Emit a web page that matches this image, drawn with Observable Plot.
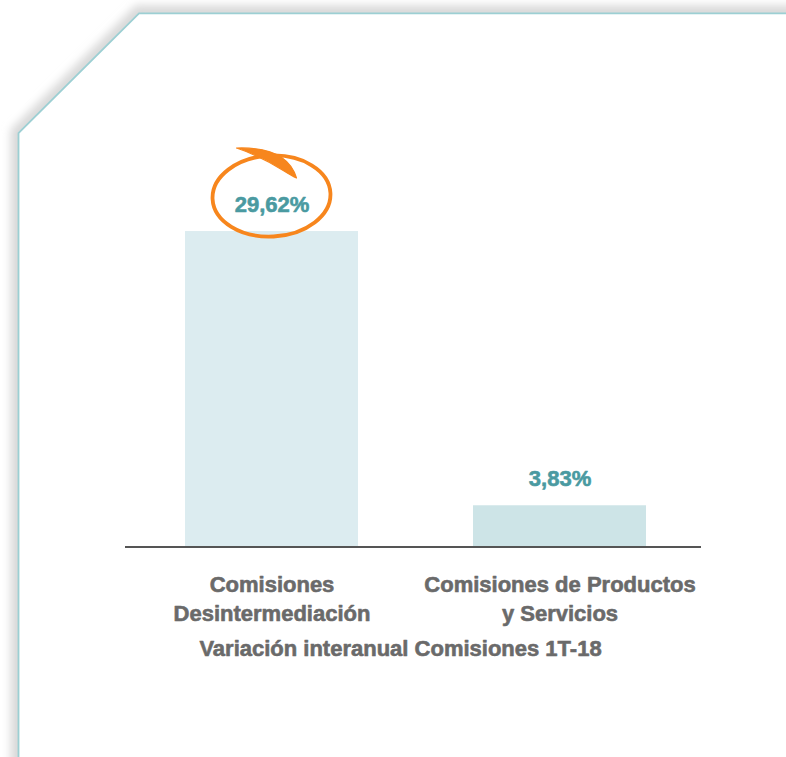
<!DOCTYPE html>
<html>
<head>
<meta charset="utf-8">
<script src="https://cdn.jsdelivr.net/npm/d3@7"></script>
<script src="https://cdn.jsdelivr.net/npm/@observablehq/plot@0.6"></script>
<style>
  html, body { margin: 0; padding: 0; background: #ffffff; }
  #chart { width: 786px; height: 757px; overflow: hidden; }
</style>
</head>
<body>
<div id="chart"></div>
<script>
const categories = ["Comisiones Desintermediación", "Comisiones de Productos y Servicios"];
const tickLabels = ["Comisiones\nDesintermediación", "Comisiones de Productos\ny Servicios"];
const values = [29.62, 3.83];
const valueLabels = ["29,62%", "3,83%"];
const barColors = ["#dcecf0", "#cde4e7"];
const title = "Variación interanual Comisiones 1T-18";

const data = categories.map((c, i) => ({cat: c, value: values[i], label: valueLabels[i], tick: tickLabels[i], color: barColors[i]}));

const font = "'Liberation Sans', Arial, Helvetica, sans-serif";
const grey = "#6a6a6a";
const teal = "#4a9aa1";

const chart = Plot.plot({
  width: 786,
  height: 757,
  marginLeft: 127,
  marginRight: 83,
  marginTop: 227,
  marginBottom: 211,
  x: {domain: categories, paddingInner: 0.4, paddingOuter: 0.2, axis: null},
  y: {domain: [0, 30], axis: null},
  color: {type: "identity"},
  style: {fontFamily: font, background: "transparent", overflow: "visible"},
  marks: [
    Plot.barY(data, {x: "cat", y: "value", fill: "color"}),
    Plot.ruleY([0], {stroke: "#555555", strokeWidth: 2, dx: -2, dy: 0.5}),
    Plot.text(data, {x: "cat", y: "value", text: "label", lineAnchor: "top", dy: -35,
      fill: teal, stroke: teal, strokeWidth: 0.6, fontSize: 22, fontWeight: "bold"}),
    Plot.text(data, {x: "cat", text: "tick", frameAnchor: "bottom", lineAnchor: "top", dy: 25,
      lineHeight: 1.32, fill: grey, stroke: grey, strokeWidth: 0.6, fontSize: 22, fontWeight: "bold"}),
    Plot.text([title], {text: d => d, frameAnchor: "bottom", lineAnchor: "top", dy: 94, dx: -15,
      fill: grey, stroke: grey, strokeWidth: 0.6, fontSize: 22, fontWeight: "bold"})
  ]
});

document.getElementById("chart").appendChild(chart);

// Decorative frame (behind the chart)
const svg = d3.select(chart);
const defs = svg.insert("defs", ":first-child");
defs.append("filter").attr("id", "shadowBlur").attr("x", "-10%").attr("y", "-10%").attr("width", "120%").attr("height", "120%")
  .append("feGaussianBlur").attr("stdDeviation", 4);
const framePath = "M18.5,770 L18.5,133 L139,13.3 L800,13.3";
const frameFill = "M18.5,770 L18.5,133 L139,13.3 L800,13.3 L800,770 Z";
const deco = svg.insert("g", "defs + *");
deco.append("path").attr("d", framePath).attr("fill", "none").attr("stroke", "#d9d9d9").attr("stroke-width", 16).attr("filter", "url(#shadowBlur)");
deco.append("path").attr("d", frameFill).attr("fill", "#ffffff");
deco.append("path").attr("d", framePath).attr("fill", "none").attr("stroke", "#9ccfd3").attr("stroke-width", 1.8);

// Orange hand-drawn ellipse highlighting the first value
const xs = chart.scale("x");
const ys = chart.scale("y");
const cx = xs.apply(categories[0]) + xs.bandwidth / 2;
const cy = ys.apply(values[0]) - 35;
const hl = svg.append("g").attr("transform", `translate(${cx},${cy})`);
hl.append("ellipse").attr("cx", 0).attr("cy", 0).attr("rx", 59).attr("ry", 40.5)
  .attr("transform", "rotate(-3)")
  .attr("fill", "none").attr("stroke", "#f7861d").attr("stroke-width", 3.8);
hl.append("path")
  .attr("d", "M-35,-48 C-6,-49 18,-42 25,-18 C12,-24 -2,-37 -35,-48 Z")
  .attr("fill", "#f7861d").attr("stroke", "#f7861d").attr("stroke-width", 1.2).attr("stroke-linejoin", "round");
</script>
</body>
</html>
